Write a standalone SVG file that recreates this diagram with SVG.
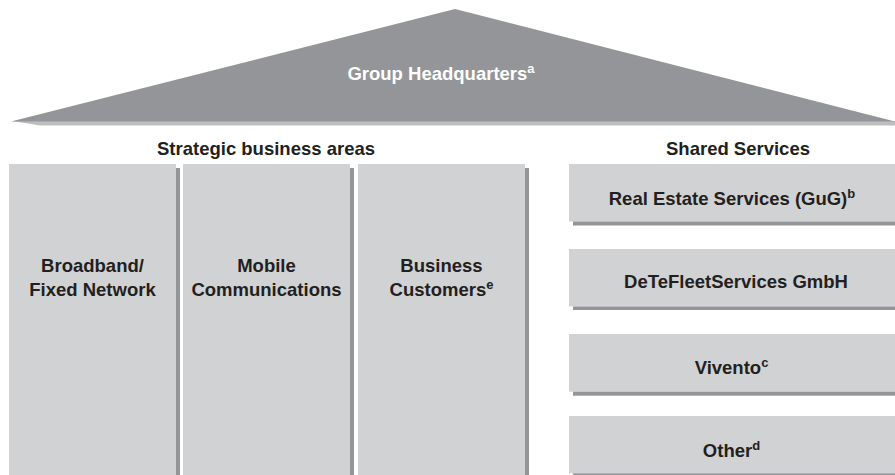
<svg xmlns="http://www.w3.org/2000/svg" width="895" height="475" viewBox="0 0 895 475">
  <style>
    text { font-family: "Liberation Sans", Arial, sans-serif; font-weight: bold; font-size: 18.5px; fill: #231f20; text-anchor: middle; }
    .light { fill: #d1d2d4; }
    .shade { fill: #939598; }
    .sup { font-size: 13px; }
    .roof-text { fill: #ffffff; }
  </style>
  <rect width="895" height="475" fill="#ffffff"/>

  <g id="group-headquarters">
    <polygon points="12,121 895,121 895,125.5 40,125.5" fill="#bcbec0"/>
    <polygon class="shade" points="11,121.5 455,9 895,121.5"/>
    <text class="roof-text" x="441" y="80">Group Headquarters<tspan class="sup" dy="-7">a</tspan></text>
  </g>

  <g id="strategic-business-areas">
    <text x="266" y="155">Strategic business areas</text>
  </g>

  <g id="broadband-fixed-network">
    <rect class="light" x="9" y="164" width="167" height="311"/>
    <rect class="shade" x="176" y="168" width="4" height="307"/>
    <text x="92.5" y="272">Broadband/</text>
    <text x="92.5" y="296">Fixed Network</text>
  </g>

  <g id="mobile-communications">
    <rect class="light" x="183" y="164" width="167" height="311"/>
    <rect class="shade" x="350" y="168" width="4" height="307"/>
    <text x="266.5" y="272">Mobile</text>
    <text x="266.5" y="296">Communications</text>
  </g>

  <g id="business-customers">
    <rect class="light" x="358" y="164" width="167" height="311"/>
    <rect class="shade" x="525" y="168" width="4" height="307"/>
    <text x="441.5" y="272">Business</text>
    <text x="441.5" y="296">Customers<tspan class="sup" dy="-7">e</tspan></text>
  </g>

  <g id="shared-services">
    <text x="738" y="155">Shared Services</text>
  </g>

  <g id="real-estate-services">
    <rect class="light" x="569" y="164" width="326" height="57.5"/>
    <rect class="shade" x="573" y="221.5" width="322" height="4"/>
    <text x="732" y="204.5">Real Estate Services (GuG)<tspan class="sup" dy="-7">b</tspan></text>
  </g>

  <g id="detefleetservices">
    <rect class="light" x="569" y="249" width="326" height="57.5"/>
    <rect class="shade" x="573" y="306.5" width="322" height="3.5"/>
    <text x="736" y="288">DeTeFleetServices GmbH</text>
  </g>

  <g id="vivento">
    <rect class="light" x="569" y="334" width="326" height="57.7"/>
    <rect class="shade" x="573" y="391.7" width="322" height="4"/>
    <text x="731.5" y="373.5">Vivento<tspan class="sup" dy="-7">c</tspan></text>
  </g>

  <g id="other">
    <rect class="light" x="569" y="416" width="326" height="57.3"/>
    <rect class="shade" x="573" y="473.3" width="322" height="1.7"/>
    <text x="731.5" y="457">Other<tspan class="sup" dy="-7">d</tspan></text>
  </g>
</svg>
